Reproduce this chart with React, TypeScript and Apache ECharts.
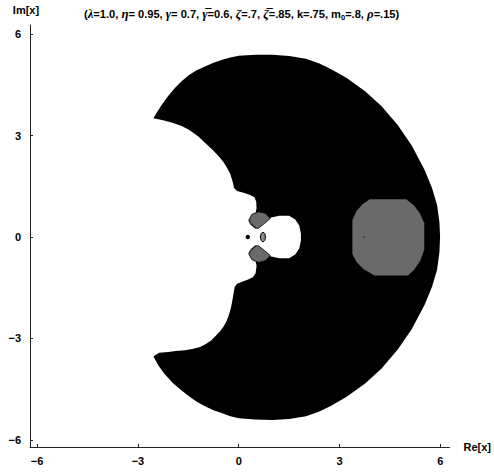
import React, { useEffect, useRef } from "react";
import * as echarts from "echarts";

// Axis ticks
const xTicks = [-6, -3, 0, 3, 6];
const yTicks = [-6, -3, 0, 3, 6];

// Crescent (black region): outer boundary, clockwise from upper tip
const outerArc: number[][] = [
  [-2.54, 3.51], [-2.45, 3.66], [-2.3, 3.9], [-2.1, 4.17], [-1.9, 4.41], [-1.7, 4.61],
  [-1.48, 4.79], [-1.25, 4.93], [-0.99, 5.05], [-0.75, 5.15], [-0.49, 5.24], [-0.25, 5.31],
  [0, 5.36], [0.5, 5.39], [1.0, 5.39], [1.5, 5.35], [2.0, 5.27], [2.4, 5.13], [2.75, 4.96],
  [3.2, 4.71], [3.76, 4.31], [4.25, 3.87], [4.73, 3.31], [5.15, 2.7], [5.53, 1.98],
  [5.75, 1.45], [5.9, 0.95], [5.97, 0.45], [5.99, 0],
  [5.97, -0.45], [5.9, -0.97], [5.75, -1.47], [5.53, -2.0], [5.15, -2.72], [4.73, -3.33],
  [4.25, -3.89], [3.76, -4.33], [3.2, -4.73], [2.75, -4.99], [2.4, -5.16], [2.0, -5.3],
  [1.5, -5.38], [1.0, -5.41], [0.5, -5.4], [0, -5.36], [-0.25, -5.3], [-0.49, -5.21],
  [-0.75, -5.12], [-0.99, -5.01], [-1.25, -4.87], [-1.48, -4.71], [-1.7, -4.54],
  [-1.97, -4.31], [-2.2, -4.06], [-2.37, -3.83], [-2.54, -3.53],
];

// Crescent inner (concave) boundary, from lower tip around the central hole to upper tip
const innerArc: number[][] = [
  [-2.37, -3.42], [-2.1, -3.4], [-1.87, -3.37], [-1.6, -3.35], [-1.38, -3.31], [-1.15, -3.25],
  [-0.99, -3.17], [-0.82, -3.06], [-0.69, -2.93], [-0.55, -2.78], [-0.44, -2.63],
  [-0.36, -2.48], [-0.3, -2.33], [-0.24, -2.12], [-0.2, -1.94], [-0.16, -1.7], [-0.12, -1.48],
  [-0.05, -1.38], [0.1, -1.32], [0.28, -1.26], [0.42, -1.19], [0.5, -1.08], [0.53, -0.86],
  [0.47, -0.55], [0.8, -0.55], [0.94, -0.57], [1.2, -0.63], [1.5, -0.63], [1.68, -0.52],
  [1.8, -0.34], [1.85, -0.1], [1.85, 0.1], [1.8, 0.34], [1.68, 0.52], [1.5, 0.63],
  [1.2, 0.63], [0.94, 0.57], [0.8, 0.55], [0.47, 0.55], [0.53, 0.85], [0.52, 1.05],
  [0.46, 1.18], [0.3, 1.26], [0.12, 1.32], [-0.05, 1.36], [-0.14, 1.45], [-0.17, 1.6],
  [-0.2, 1.69], [-0.25, 1.86], [-0.35, 2.05], [-0.45, 2.21], [-0.59, 2.38], [-0.78, 2.58],
  [-0.99, 2.77], [-1.2, 2.97], [-1.48, 3.17], [-1.7, 3.28], [-1.97, 3.38], [-2.25, 3.45],
];

// Gray disk on the right
const grayDisk: number[][] = [
  [3.9, 1.12], [4.98, 1.12], [5.2, 0.95], [5.38, 0.72], [5.52, 0.41], [5.52, -0.38],
  [5.4, -0.7], [5.22, -0.97], [5.03, -1.14], [4.04, -1.14], [3.72, -0.95], [3.5, -0.74],
  [3.38, -0.5], [3.38, 0.5], [3.5, 0.76], [3.68, 0.97],
];

// Small gray patches near the origin
const grayUpper: number[][] = [
  [0.3, 0.5], [0.39, 0.67], [0.59, 0.75], [0.79, 0.7], [0.94, 0.55], [0.74, 0.38],
  [0.59, 0.26], [0.49, 0.26], [0.35, 0.38],
];
const grayLower: number[][] = [
  [0.3, -0.5], [0.39, -0.67], [0.59, -0.75], [0.79, -0.7], [0.94, -0.55], [0.74, -0.38],
  [0.59, -0.26], [0.49, -0.26], [0.35, -0.38],
];
const lightUpper: number[][] = [
  [0.3, 0.48], [0.36, 0.4], [0.46, 0.3], [0.5, 0.27], [0.43, 0.33], [0.36, 0.45],
];
const lightLower: number[][] = [
  [0.3, -0.48], [0.36, -0.4], [0.46, -0.3], [0.5, -0.27], [0.43, -0.33], [0.36, -0.45],
];

// Small isolated marks: [re, im, halfWidth, halfHeight]
const blackDots: number[][] = [[0.27, 0, 0.065, 0.065], [3.73, 0, 0.02, 0.02]];
const ovalMarks: number[][] = [[0.72, 0, 0.075, 0.14]];

const fmt = (v: number) => (v < 0 ? "\u2212" + Math.abs(v) : String(v));

function polygonSeries(pts: number[][], fill: string, stroke: string | null, lw: number, z: number) {
  return {
    type: "custom",
    coordinateSystem: "cartesian2d",
    data: pts,
    encode: { x: 0, y: 1 },
    z,
    silent: true,
    clip: true,
    renderItem: (params: any, api: any) => {
      if (params.dataIndex !== 0) return null;
      return {
        type: "polygon",
        shape: { points: pts.map((p) => api.coord(p)) },
        style: { fill, stroke: stroke || "none", lineWidth: lw },
      };
    },
  };
}

function ellipseSeries(items: number[][], fill: string, stroke: string | null, lw: number, z: number) {
  return {
    type: "custom",
    coordinateSystem: "cartesian2d",
    data: items,
    encode: { x: 0, y: 1 },
    z,
    silent: true,
    renderItem: (params: any, api: any) => {
      const c = api.coord([api.value(0), api.value(1)]);
      const s = api.size([api.value(2), api.value(3)]);
      return {
        type: "ellipse",
        shape: { cx: c[0], cy: c[1], rx: s[0], ry: s[1] },
        style: { fill, stroke: stroke || "none", lineWidth: lw },
      };
    },
  };
}

const sans = "'Liberation Sans', Arial, Helvetica, sans-serif";
const serif = "'Liberation Serif', 'DejaVu Serif', serif";

export default function App() {
  const ref = useRef<HTMLDivElement>(null);
  useEffect(() => {
    if (!ref.current) return;
    const chart = echarts.init(ref.current, null, { renderer: "svg" });
    const axisLine = { show: true, onZero: false, lineStyle: { color: "#222", width: 1 } };
    const labelStyle = { color: "#000", fontFamily: sans, fontWeight: "bold" as const, fontSize: 11 };
    chart.setOption({
      animation: false,
      backgroundColor: "#fff",
      title: {
        text:
          "{t|(}{g|λ}{t|=1.0, }{g|η}{t|= 0.95, }{g|γ}{t|= 0.7, }{g|γ\u0305}{t|=0.6, }{g|ζ}{t|=.7, }{g|ζ\u0305}{t|=.85, k=.75, m}{s|0}{t|=.8, }{g|ρ}{t|=.15)}",
        left: 79,
        top: 2,
        textStyle: {
          rich: {
            t: { fontFamily: sans, fontWeight: "bold", fontSize: 11.1, color: "#000", lineHeight: 14 },
            g: { fontFamily: serif, fontStyle: "italic", fontSize: 12.8, color: "#000", lineHeight: 14 },
            s: { fontFamily: sans, fontWeight: "bold", fontSize: 7.5, color: "#000", lineHeight: 14, verticalAlign: "bottom", padding: [4, 0, 0, 0] },
          },
        },
      },
      grid: { left: 30, right: 42, top: 25, bottom: 25, containLabel: false },
      xAxis: {
        type: "value",
        min: -6.21,
        max: 6.27,
        name: "Re[x]",
        nameLocation: "end",
        nameGap: 14,
        nameTextStyle: { ...labelStyle },
        axisLine: { ...axisLine },
        axisTick: { show: true, inside: true, length: 3, customValues: xTicks, lineStyle: { color: "#222" } },
        axisLabel: { show: true, customValues: xTicks, formatter: fmt, margin: 8, ...labelStyle },
        splitLine: { show: false },
        minorTick: { show: false },
      },
      yAxis: {
        type: "value",
        min: -6.21,
        max: 6.27,
        name: "Im[x]",
        nameLocation: "end",
        nameGap: 10,
        nameTextStyle: { ...labelStyle, padding: [0, 8, 0, 0] },
        axisLine: { ...axisLine },
        axisTick: { show: true, inside: true, length: 3, customValues: yTicks, lineStyle: { color: "#222" } },
        axisLabel: { show: true, customValues: yTicks, formatter: fmt, margin: 9, ...labelStyle },
        splitLine: { show: false },
        minorTick: { show: false },
      },
      series: [
        polygonSeries(outerArc.concat(innerArc), "#000", null, 0, 2),
        polygonSeries(grayDisk, "#6a6a6a", null, 0, 3),
        polygonSeries(grayUpper, "#6a6a6a", "#000", 0.8, 3),
        polygonSeries(grayLower, "#6a6a6a", "#000", 0.8, 3),
        polygonSeries(lightUpper, "#c8c8c8", "#000", 0.6, 4),
        polygonSeries(lightLower, "#c8c8c8", "#000", 0.6, 4),
        ellipseSeries(blackDots, "#000", null, 0, 5),
        ellipseSeries(ovalMarks, "#8a8a8a", "#000", 1, 5),
      ],
    });
    return () => chart.dispose();
  }, []);
  return <div ref={ref} style={{ position: "fixed", left: 0, top: 0, width: 494, height: 472 }} />;
}
